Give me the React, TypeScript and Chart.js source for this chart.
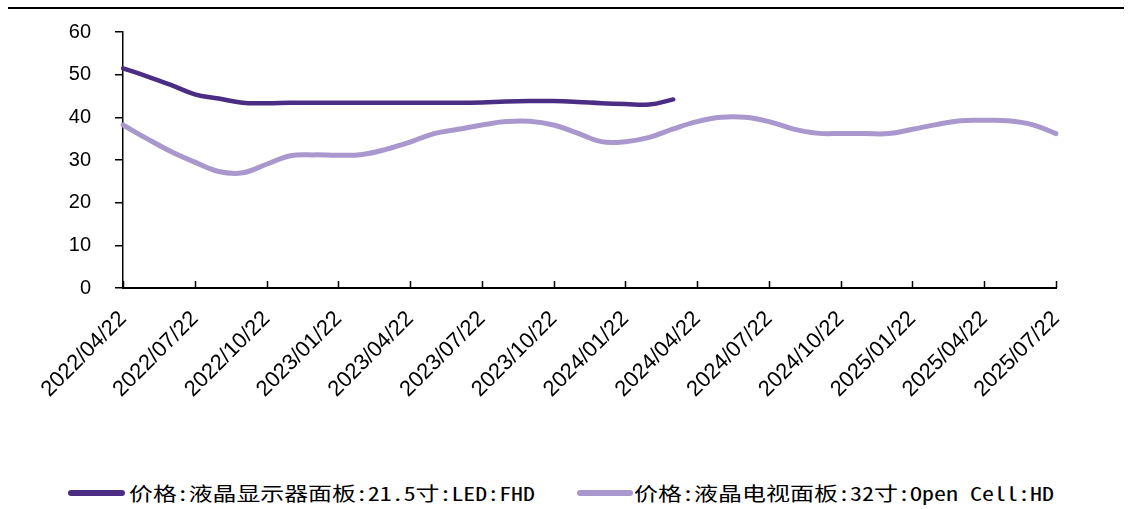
import React, { useEffect, useLayoutEffect, useRef } from "react";
import { Chart, registerables } from "chart.js";

Chart.register(...registerables);

const months: string[] = [
  "2022/04/22", "2022/05/22", "2022/06/22", "2022/07/22", "2022/08/22", "2022/09/22",
  "2022/10/22", "2022/11/22", "2022/12/22", "2023/01/22", "2023/02/22", "2023/03/22",
  "2023/04/22", "2023/05/22", "2023/06/22", "2023/07/22", "2023/08/22", "2023/09/22",
  "2023/10/22", "2023/11/22", "2023/12/22", "2024/01/22", "2024/02/22", "2024/03/22",
  "2024/04/22", "2024/05/22", "2024/06/22", "2024/07/22", "2024/08/22", "2024/09/22",
  "2024/10/22", "2024/11/22", "2024/12/22", "2025/01/22", "2025/02/22", "2025/03/22",
  "2025/04/22", "2025/05/22", "2025/06/22", "2025/07/22",
];

const monitorPrice: (number | null)[] = [
  51.5, 49.6, 47.6, 45.4, 44.4, 43.4, 43.3, 43.4, 43.4, 43.4, 43.4, 43.4,
  43.4, 43.4, 43.4, 43.5, 43.7, 43.8, 43.8, 43.6, 43.3, 43.1, 43.0, 44.2,
  null, null, null, null, null, null, null, null, null, null, null, null,
  null, null, null, null,
];

const tvPrice: number[] = [
  38.2, 35.0, 32.0, 29.5, 27.3, 27.0, 29.0, 31.0, 31.2, 31.1, 31.3, 32.5,
  34.2, 36.2, 37.2, 38.2, 39.0, 39.1, 38.2, 36.3, 34.3, 34.3, 35.3, 37.3,
  39.0, 40.0, 40.0, 39.0, 37.3, 36.3, 36.2, 36.2, 36.2, 37.2, 38.3, 39.2,
  39.3, 39.2, 38.3, 36.2,
];

const seriesNames: string[] = [
  "价格:液晶显示器面板:21.5寸:LED:FHD",
  "价格:液晶电视面板:32寸:Open Cell:HD",
];

const DARK = "#4B2D83";
const LIGHT = "#A898CE";
const TICK_EVERY = 3;

const inwardTicks = {
  id: "inwardTicks",
  afterDraw(chart: any) {
    const x = chart.scales.x;
    const ctx = chart.ctx;
    const bottom = chart.chartArea.bottom;
    ctx.save();
    ctx.strokeStyle = "#000";
    ctx.lineWidth = 1.5;
    for (let i = 0; i < months.length; i += TICK_EVERY) {
      const px = Math.round(x.getPixelForTick(i)) + 0.5;
      ctx.beginPath();
      ctx.moveTo(px, bottom - 7);
      ctx.lineTo(px, bottom);
      ctx.stroke();
    }
    ctx.restore();
  },
};

function LegendItem({ color, text, lineLeft, lineWidth, textLeft, textWidth }: any) {
  const ref = useRef<HTMLSpanElement>(null);
  useLayoutEffect(() => {
    const el = ref.current;
    if (!el) return;
    el.style.transform = "none";
    const w = el.getBoundingClientRect().width;
    if (w > 0) el.style.transform = `scaleX(${textWidth / w})`;
  }, [textWidth]);
  return (
    <>
      <div
        style={{
          position: "absolute",
          left: lineLeft,
          top: 490,
          width: lineWidth,
          height: 6,
          borderRadius: 3,
          background: color,
        }}
      />
      <span
        ref={ref}
        style={{
          position: "absolute",
          left: textLeft,
          top: 481,
          fontFamily: "'Noto Sans Mono CJK SC', 'Noto Sans CJK SC', 'DejaVu Sans Mono', monospace",
          fontSize: 19,
          lineHeight: "24px",
          whiteSpace: "nowrap",
          color: "#000",
          transformOrigin: "left center",
        }}
      >
        {text}
      </span>
    </>
  );
}

export default function App() {
  const canvasRef = useRef<HTMLCanvasElement>(null);

  useEffect(() => {
    const canvas = canvasRef.current;
    if (!canvas) return;
    const chart = new Chart(canvas, {
      type: "line",
      data: {
        labels: months,
        datasets: [
          {
            label: seriesNames[0],
            data: monitorPrice,
            borderColor: DARK,
            backgroundColor: DARK,
            borderWidth: 4.5,
            pointRadius: 0,
            tension: 0.4,
            borderCapStyle: "round",
            borderJoinStyle: "round",
            spanGaps: false,
          },
          {
            label: seriesNames[1],
            data: tvPrice,
            borderColor: LIGHT,
            backgroundColor: LIGHT,
            borderWidth: 5,
            pointRadius: 0,
            tension: 0.4,
            borderCapStyle: "round",
            borderJoinStyle: "round",
          },
        ],
      },
      options: {
        responsive: false,
        animation: false,
        devicePixelRatio: 1,
        layout: { padding: { top: 32, right: 86, left: 0, bottom: 0 } },
        plugins: {
          legend: { display: false },
          tooltip: { enabled: false },
        },
        scales: {
          x: {
            type: "category",
            offset: false,
            grid: { display: true, drawOnChartArea: false, drawTicks: false, color: "transparent" },
            border: { display: true, color: "#000", width: 2 },
            ticks: {
              autoSkip: false,
              minRotation: 45,
              maxRotation: 45,
              padding: 18,
              color: "#000",
              font: { family: "'Liberation Sans', Arial, sans-serif", size: 22 },
              callback: (_v: any, i: number) => (i % TICK_EVERY === 0 ? months[i] : ""),
            },
            afterFit: (scale: any) => {
              scale.height = 470 - 288;
              scale.paddingTop = 0;
              scale.paddingBottom = 0;
            },
          },
          y: {
            min: 0,
            max: 60,
            grid: { display: true, drawOnChartArea: false, drawTicks: true, tickLength: 8, color: "#000", lineWidth: 1.5 },
            border: { display: true, color: "#000", width: 1.5 },
            ticks: {
              stepSize: 10,
              padding: 24,
              color: "#000",
              font: { family: "'Liberation Sans', Arial, sans-serif", size: 20 },
            },
            afterFit: (scale: any) => {
              scale.width = 123;
              scale.paddingTop = 0;
              scale.paddingBottom = 0;
            },
          },
        },
      },
      plugins: [inwardTicks],
    });
    return () => chart.destroy();
  }, []);

  return (
    <div style={{ position: "absolute", left: 0, top: 0, width: 1142, height: 509, background: "#fff", overflow: "hidden" }}>
      <div style={{ position: "absolute", left: 8, top: 7, width: 1116, height: 2, background: "#000" }} />
      <canvas
        ref={canvasRef}
        width={1142}
        height={470}
        style={{ position: "absolute", left: 0, top: 0, width: 1142, height: 470, display: "block" }}
      />
      <LegendItem color={DARK} text={seriesNames[0]} lineLeft={68} lineWidth={57} textLeft={129} textWidth={406} />
      <LegendItem color={LIGHT} text={seriesNames[1]} lineLeft={577} lineWidth={56} textLeft={634} textWidth={420} />
    </div>
  );
}
